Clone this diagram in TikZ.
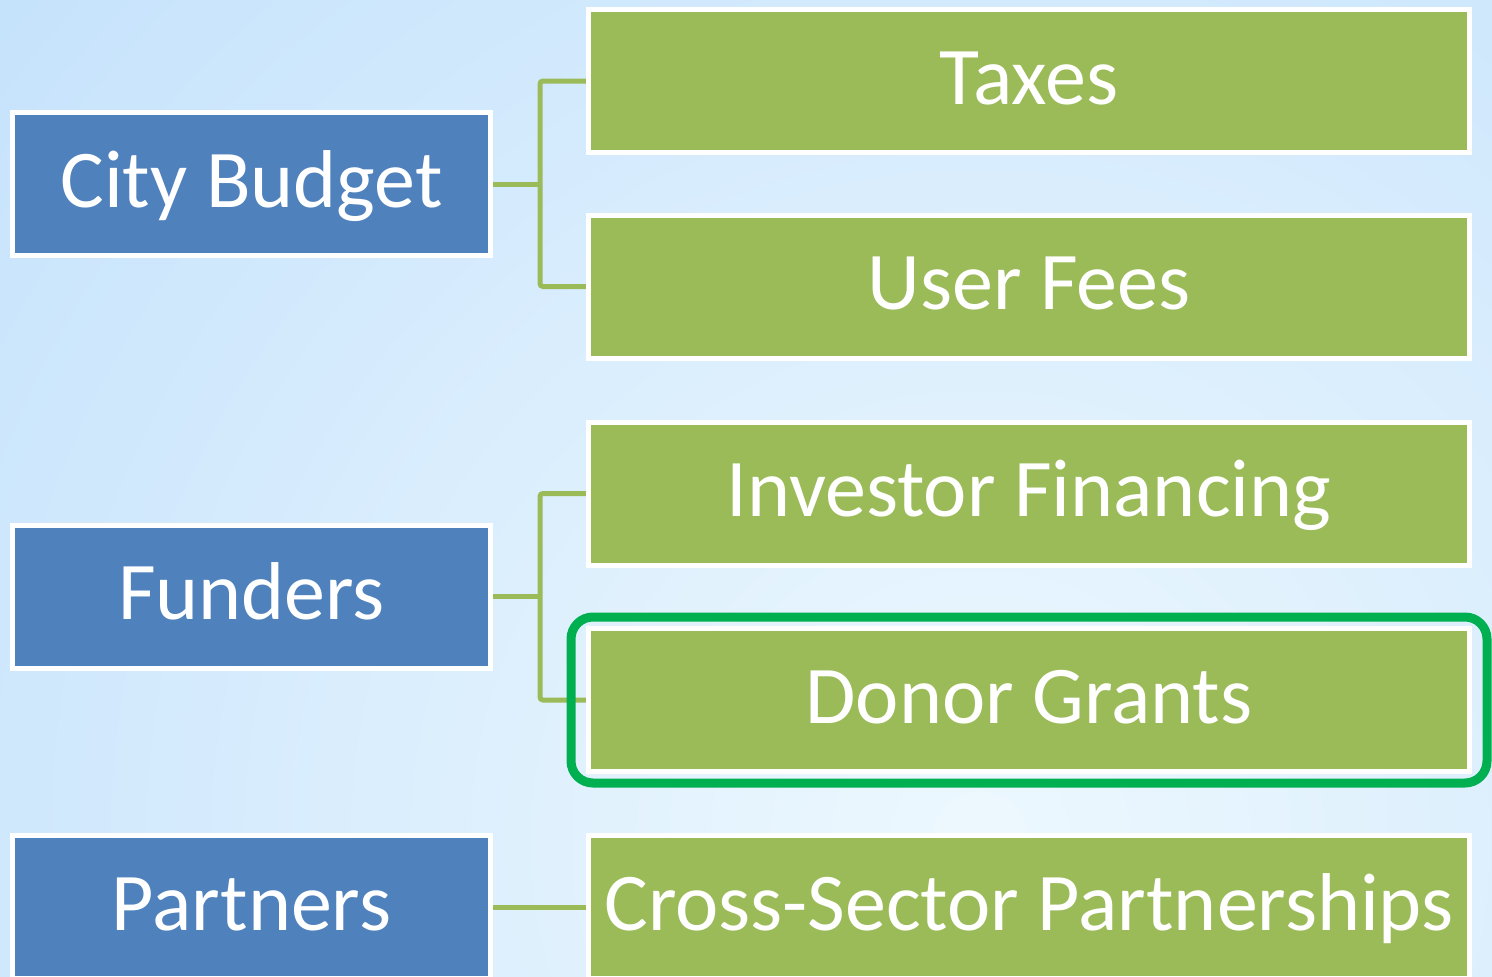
\documentclass[tikz,border=0pt]{standalone}
\usepackage{fontspec}
\setmainfont{Carlito}
\usetikzlibrary{fit,backgrounds}
\definecolor{bluebox}{HTML}{4F81BD}
\definecolor{greenbox}{HTML}{9BBB59}
\definecolor{hilite}{HTML}{00B050}
\definecolor{bgout}{HTML}{B6DAFB}
\definecolor{bgin}{HTML}{EDF8FE}
\tikzset{
  boxtext/.style={text=white, inner sep=0pt, text height=56pt, text depth=10pt,
    font=\fontsize{82}{90}\selectfont},
  lbox/.style={boxtext, draw=white, line width=5pt, fill=bluebox,
    minimum width=478pt, minimum height=143pt},
  rbox/.style={boxtext, draw=white, line width=5pt, fill=greenbox,
    minimum width=881pt, minimum height=143pt},
  conn/.style={draw=greenbox, line width=5pt, rounded corners=3pt},
  hl/.style={draw=hilite, line width=9pt, rounded corners=22pt}
}
\begin{document}
\begin{tikzpicture}[x=1pt,y=-1pt]
\useasboundingbox (0,0) rectangle (1492,977);
\node[lbox] (cb) at (251.5,184) {City Budget};
\node[lbox] (fu) at (251.5,596.5) {Funders};
\node[lbox] (pa) at (251.5,907) {Partners};
\node[rbox] (tx) at (1029,81) {Taxes};
\node[rbox] (uf) at (1029,286.5) {User Fees};
\node[rbox] (inv) at (1029,493.5) {Investor Financing};
\node[rbox] (dg) at (1029,700) {Donor Grants};
\node[rbox] (cs) at (1029,907) {Cross-Sector Partnerships};
\coordinate (j1) at (540,184);
\coordinate (j2) at (540,596.5);
\begin{scope}[on background layer]
\clip (0,0) rectangle (1492,977);
\shade[inner color=bgin, outer color=bgout] (980,840) circle (1800);
\draw[conn] (cb.east) -- (j1);
\draw[conn] (tx.west) -| (j1) |- (uf.west);
\draw[conn] (fu.east) -- (j2);
\draw[conn] (inv.west) -| (j2) |- (dg.west);
\draw[conn] (pa.east) -- (cs.west);
\end{scope}
\node[hl, fit=(dg), inner xsep=15pt, inner ysep=9pt] (hlbox) {};
\end{tikzpicture}
\end{document}
